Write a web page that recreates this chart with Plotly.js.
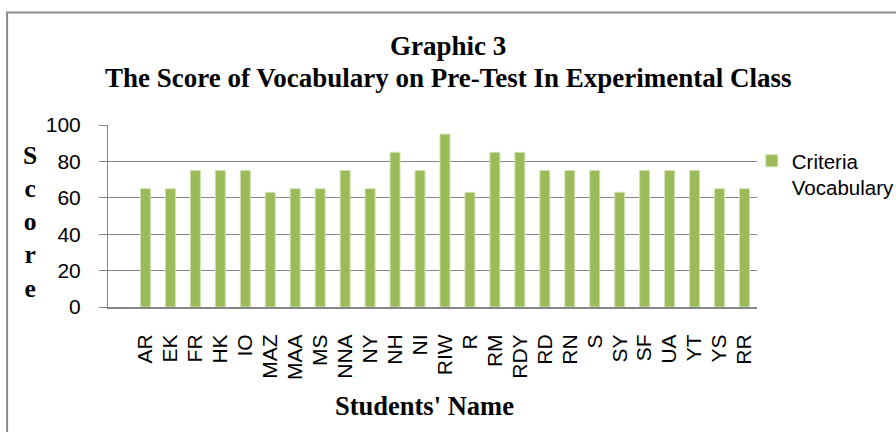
<!DOCTYPE html>
<html>
<head>
<meta charset="utf-8">
<script src="https://cdn.plot.ly/plotly-3.0.1.min.js"></script>
<style>html,body{margin:0;padding:0;background:#fff;}#chart{width:896px;height:432px;}</style>
</head>
<body>
<div id="chart"></div>
<script>
const students = ["AR","EK","FR","HK","IO","MAZ","MAA","MS","NNA","NY","NH","NI","RIW","R","RM","RDY","RD","RN","S","SY","SF","UA","YT","YS","RR"];
const scores = [65,65,75,75,75,63,65,65,75,65,85,75,95,63,85,85,75,75,75,63,75,75,75,65,65];
const yTicks = [0,20,40,60,80,100];
const seriesName = "Criteria<br>Vocabulary";
const titleLine1 = "Graphic 3";
const titleLine2 = "The Score of Vocabulary on Pre-Test In Experimental Class";
const yTitle = "S<br>c<br>o<br>r<br>e";
const xTitle = "Students' Name";

const sans = "Liberation Sans, Arial, sans-serif";
const serif = "Liberation Serif, Times New Roman, serif";

const trace = {
  type: "bar",
  x: students,
  y: scores,
  name: seriesName,
  marker: {color: "#9BBB59", line: {color: "#cfe0b0", width: 1}},
  showlegend: true,
  hoverinfo: "x+y"
};

const layout = {
  width: 896, height: 432,
  margin: {l: 108, r: 139, t: 125, b: 125, autoexpand: false},
  paper_bgcolor: "#ffffff",
  plot_bgcolor: "#ffffff",
  bargap: 0.6,
  showlegend: true,
  title: {
    text: titleLine1,
    font: {family: serif, size: 27, color: "#000", weight: "bold"},
    x: 0.524, xref: "paper", xanchor: "center",
    y: 0.895, yref: "container", yanchor: "middle"
  },
  font: {family: sans, color: "#000"},
  xaxis: {
    type: "category",
    range: [-1.5, 24.5],
    tickmode: "array",
    tickvals: students,
    ticktext: students,
    tickangle: -90,
    tickfont: {family: sans, size: 21, color: "#000"},
    ticks: "",
    showgrid: false,
    showline: true, linecolor: "#868686", linewidth: 2,
    ticklabelstandoff: 17,
    automargin: false,
    fixedrange: true
  },
  yaxis: {
    range: [0, 100],
    tickvals: yTicks,
    tickfont: {family: sans, size: 21, color: "#000"},
    ticks: "outside", ticklen: 8, tickcolor: "#868686", tickwidth: 1,
    showgrid: true, gridcolor: "#868686", gridwidth: 1.3,
    showline: true, linecolor: "#868686", linewidth: 1,
    zeroline: false,
    ticklabelstandoff: 14,
    automargin: false,
    fixedrange: true
  },
  legend: {
    x: 0.992, xanchor: "left", xref: "paper",
    y: 0.912, yanchor: "top",
    font: {family: sans, size: 20.5, color: "#000"},
    valign: "top",
    itemwidth: 30,
    bgcolor: "rgba(0,0,0,0)"
  },
  annotations: [
    {text: titleLine2, xref: "paper", yref: "paper", x: 0.524, y: 1.258, xanchor: "center", yanchor: "middle",
     showarrow: false, font: {family: serif, size: 27, color: "#000", weight: "bold"}},
    {text: yTitle, xref: "paper", yref: "paper", x: -0.120, y: 0.465, xanchor: "center", yanchor: "middle",
     showarrow: false, font: {family: serif, size: 25.5, color: "#000", weight: "bold"}},
    {text: xTitle, xref: "paper", yref: "paper", x: 0.487, y: -0.545, xanchor: "center", yanchor: "middle",
     showarrow: false, font: {family: serif, size: 26.5, color: "#000", weight: "bold"}}
  ],
  shapes: [
    {type: "rect", xref: "paper", yref: "paper", x0: -0.1555, x1: 1.3, y0: -0.8, y1: 1.618,
     line: {color: "#8a8a8a", width: 2}, fillcolor: "rgba(0,0,0,0)", layer: "below"}
  ]
};

Plotly.newPlot("chart", [trace], layout, {displayModeBar: false, staticPlot: true});
</script>
</body>
</html>
